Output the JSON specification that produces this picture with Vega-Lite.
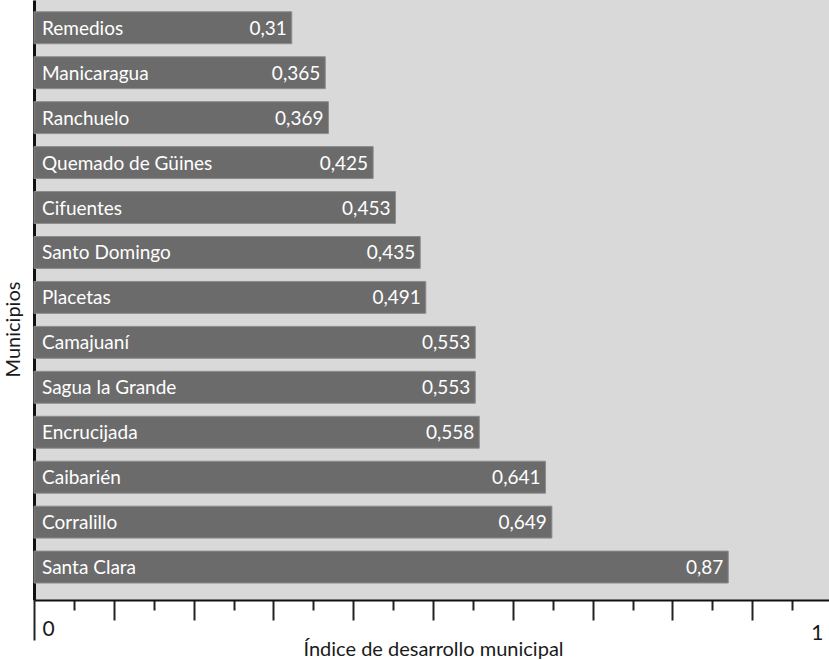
{
  "$schema": "https://vega.github.io/schema/vega-lite/v6.json",
  "autosize": {"type": "none"},
  "padding": {"left": 34, "top": 0, "right": 0, "bottom": 60},
  "width": 798,
  "height": 600,
  "background": "#ffffff",
  "config": {
    "view": {"stroke": null, "fill": "#d9d9d9"},
    "font": "Lato, sans-serif"
  },
  "data": {
    "values": [
      {"municipio": "Remedios", "valor": 0.323, "etiqueta": "0,31"},
      {"municipio": "Manicaragua", "valor": 0.365, "etiqueta": "0,365"},
      {"municipio": "Ranchuelo", "valor": 0.369, "etiqueta": "0,369"},
      {"municipio": "Quemado de Güines", "valor": 0.425, "etiqueta": "0,425"},
      {"municipio": "Cifuentes", "valor": 0.453, "etiqueta": "0,453"},
      {"municipio": "Santo Domingo", "valor": 0.484, "etiqueta": "0,435"},
      {"municipio": "Placetas", "valor": 0.491, "etiqueta": "0,491"},
      {"municipio": "Camajuaní", "valor": 0.553, "etiqueta": "0,553"},
      {"municipio": "Sagua la Grande", "valor": 0.553, "etiqueta": "0,553"},
      {"municipio": "Encrucijada", "valor": 0.558, "etiqueta": "0,558"},
      {"municipio": "Caibarién", "valor": 0.641, "etiqueta": "0,641"},
      {"municipio": "Corralillo", "valor": 0.649, "etiqueta": "0,649"},
      {"municipio": "Santa Clara", "valor": 0.87, "etiqueta": "0,87"}
    ]
  },
  "encoding": {
    "y": {
      "field": "municipio",
      "type": "nominal",
      "sort": null,
      "scale": {"paddingInner": 0.29, "paddingOuter": 0.32, "align": 0.41},
      "axis": {
        "title": "Municipios",
        "labels": false,
        "ticks": false,
        "domain": true,
        "domainColor": "#111111",
        "domainWidth": 3,
        "titleFontSize": 20,
        "titleFontWeight": "normal",
        "titleColor": "#1a1a1a",
        "titleAngle": 270,
        "titleX": -21,
        "titleY": 329,
        "titleBaseline": "middle",
        "titleAlign": "center"
      }
    }
  },
  "layer": [
    {
      "mark": {"type": "bar", "color": "#6b6b6b", "stroke": "#8c8c8c", "strokeWidth": 1},
      "encoding": {
        "x": {
          "field": "valor",
          "type": "quantitative",
          "scale": {"domain": [0, 1], "nice": false, "zero": true},
          "axis": {
            "title": "Índice de desarrollo municipal",
            "values": [0, 0.05, 0.1, 0.15, 0.2, 0.25, 0.3, 0.35, 0.4, 0.45, 0.5, 0.55, 0.6, 0.65, 0.7, 0.75, 0.8, 0.85, 0.9, 0.95, 1],
            "tickCount": 50,
            "grid": false,
            "domainColor": "#111111",
            "domainWidth": 2,
            "tickColor": "#222222",
            "tickWidth": 2,
            "tickSize": {"condition": {"test": "datum.value == 0", "value": 40}, "expr": "round(datum.value * 20) % 2 == 0 ? 20 : 10"},
            "labelExpr": "datum.value == 0 ? '0' : (datum.value == 1 ? '1' : '')",
            "labelAlign": {"condition": {"test": "datum.value == 0", "value": "left"}, "value": "right"},
            "labelOffset": {"condition": {"test": "datum.value == 0", "value": 8}, "value": -9},
            "labelPadding": {"condition": {"test": "datum.value == 0", "value": -22}, "value": 2},
            "labelBaseline": "top",
            "labelFontSize": 21,
            "labelColor": "#1a1a1a",
            "labelFlush": false,
            "labelOverlap": false,
            "titleFontSize": 20,
            "titleFontWeight": "normal",
            "titleColor": "#1a1a1a",
            "titleBaseline": "alphabetic",
            "titleY": 55
          }
        }
      }
    },
    {
      "mark": {"type": "text", "align": "left", "baseline": "middle", "dx": 8, "dy": 1, "fontSize": 19, "color": "#ffffff"},
      "encoding": {
        "x": {"datum": 0, "type": "quantitative"},
        "text": {"field": "municipio"}
      }
    },
    {
      "mark": {"type": "text", "align": "right", "baseline": "middle", "dx": -5, "dy": 1, "fontSize": 19, "color": "#ffffff"},
      "encoding": {
        "x": {"field": "valor", "type": "quantitative"},
        "text": {"field": "etiqueta"}
      }
    }
  ]
}
